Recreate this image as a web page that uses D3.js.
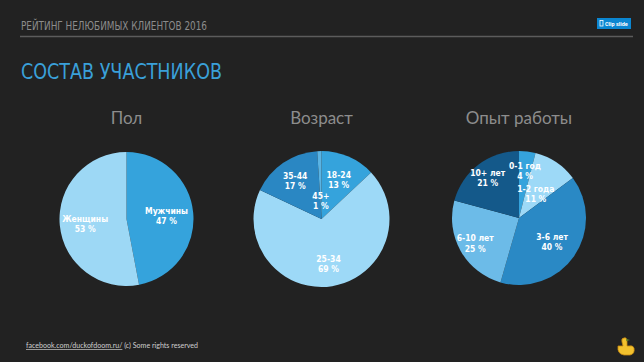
<!DOCTYPE html>
<html>
<head>
<meta charset="utf-8">
<script src="https://cdnjs.cloudflare.com/ajax/libs/d3/7.8.5/d3.min.js"></script>
<style>
  html, body { margin: 0; padding: 0; background: #222222; }
  svg { display: block; }
</style>
</head>
<body>
<script>
// data
const genderLabels = ["Мужчины", "Женщины"];
const genderValues = [47, 53];
const ageLabels = ["18-24", "25-34", "35-44", "45+"];
const ageValues = [13, 69, 17, 1];
const expLabels = ["0-1 год", "1-2 года", "3-6 лет", "6-10 лет", "10+ лет"];
const expValues = [4, 11, 40, 25, 21];
const chartTitles = ["Пол", "Возраст", "Опыт работы"];

const width = 644, height = 362;

const svg = d3.select("body").append("svg")
  .attr("width", width)
  .attr("height", height);

svg.append("rect").attr("width", width).attr("height", height).attr("fill", "#222222");

// header
svg.append("text")
  .attr("x", 21).attr("y", 30)
  .attr("fill", "#8c8c8c")
  .attr("font-family", "DejaVu Sans Condensed")
  .attr("font-size", 12)
  .attr("textLength", 186)
  .attr("lengthAdjust", "spacingAndGlyphs")
  .text("РЕЙТИНГ НЕЛЮБИМЫХ КЛИЕНТОВ 2016");

svg.append("line")
  .attr("x1", 20).attr("x2", 633)
  .attr("y1", 36.5).attr("y2", 36.5)
  .attr("stroke", "#5c5c5c").attr("stroke-width", 1.5);

// clip slide button
svg.append("rect")
  .attr("x", 597).attr("y", 18).attr("width", 34).attr("height", 11)
  .attr("fill", "#0b86d1");
svg.append("rect")
  .attr("x", 600).attr("y", 20.5).attr("width", 3).attr("height", 5.5)
  .attr("fill", "none").attr("stroke", "#fff").attr("stroke-width", 0.8);
svg.append("text")
  .attr("x", 605).attr("y", 25.8)
  .attr("fill", "#fff")
  .attr("font-family", "Roboto").attr("font-size", 5.5).attr("font-weight", "bold")
  .text("Clip slide");

svg.append("text")
  .attr("x", 21).attr("y", 79)
  .attr("fill", "#3aa0d9")
  .attr("font-family", "DejaVu Sans Condensed")
  .attr("font-size", 22)
  .attr("textLength", 201)
  .attr("lengthAdjust", "spacingAndGlyphs")
  .text("СОСТАВ УЧАСТНИКОВ");

// pies
const charts = [
  { labels: genderLabels, values: genderValues, cx: 126.5, cy: 219, r: 67,
    colors: ["#35a3dc", "#9dd8f5"], labelR: [0.6, 0.62] },
  { labels: ageLabels, values: ageValues, cx: 321.5, cy: 219, r: 68,
    colors: ["#35a3dc", "#9dd9f7", "#2a87c3", "#5ab4e4"], labelR: [0.64, 0.66, 0.69, 0.28] },
  { labels: expLabels, values: expValues, cx: 519, cy: 218, r: 67,
    colors: ["#35a3dc", "#9dd9f7", "#2a89c5", "#6cbbe8", "#14598a"], labelR: [0.72, 0.45, 0.6, 0.75, 0.77] }
];

const pie = d3.pie().sort(null).value(d => d);

charts.forEach((c, ci) => {
  const g = svg.append("g").attr("transform", `translate(${c.cx},${c.cy})`);
  const arc = d3.arc().innerRadius(0).outerRadius(c.r);
  const arcs = pie(c.values);

  g.selectAll("path")
    .data(arcs)
    .join("path")
    .attr("d", arc)
    .attr("fill", (d, i) => c.colors[i]);

  const label = g.selectAll("text.lbl")
    .data(arcs)
    .join("text")
    .attr("class", "lbl")
    .attr("transform", (d, i) => {
      const lr = c.labelR[i] * c.r;
      const p = d3.arc().innerRadius(lr).outerRadius(lr).centroid(d);
      return `translate(${p[0]},${p[1]})`;
    })
    .attr("text-anchor", "middle")
    .attr("fill", "#ffffff")
    .attr("font-family", "DejaVu Sans Condensed")
    .attr("font-weight", "bold")
    .attr("font-size", 8.5);

  label.append("tspan").attr("x", 0).attr("dy", "-0.15em").text((d, i) => c.labels[i]);
  label.append("tspan").attr("x", 0).attr("dy", "1.2em").text(d => d.data + " %");

  svg.append("text")
    .attr("x", c.cx).attr("y", 124)
    .attr("text-anchor", "middle")
    .attr("fill", "#8d8d8d")
    .attr("font-family", "Lato")
    .attr("font-size", 17)
    .text(chartTitles[ci]);
});

// footer
const foot = svg.append("text")
  .attr("x", 26).attr("y", 348)
  .attr("fill", "#cfcfcf")
  .attr("font-family", "Lato")
  .attr("font-size", 7)
  .attr("textLength", 172)
  .attr("lengthAdjust", "spacingAndGlyphs");
foot.append("tspan").attr("text-decoration", "underline").text("facebook.com/duckofdoom.ru/");
foot.append("tspan").text(" (c) Some rights reserved");

// duck icon
const duck = svg.append("g").attr("transform", "translate(616,336)");
duck.append("path")
  .attr("d", "M2,10 Q1,18 8,19 L14,19 Q19,18 18,12 Q17,9 13,10 L11,10 L11,6 Q11,1 8,2 Q5,2 6,6 L7,10 Z")
  .attr("fill", "#f2c12e").attr("stroke", "#c98c10").attr("stroke-width", 0.8);
duck.append("path").attr("d", "M10,3 L14,4 L10,5 Z").attr("fill", "#6b8f2a");
</script>
</body>
</html>
